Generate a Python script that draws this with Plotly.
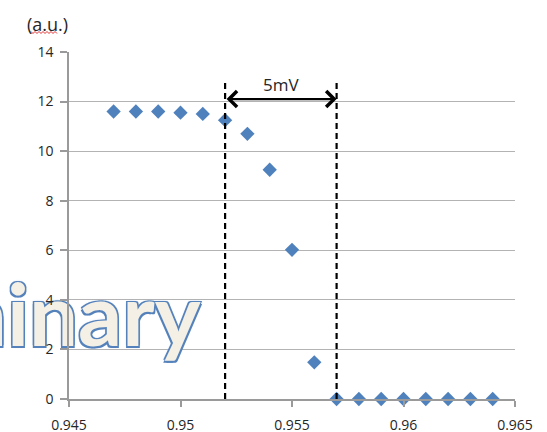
import plotly.graph_objects as go

# ---- data ----
bias_v = [0.947, 0.948, 0.949, 0.950, 0.951, 0.952, 0.953, 0.954, 0.955,
          0.956, 0.957, 0.958, 0.959, 0.960, 0.961, 0.962, 0.963, 0.964]
signal = [11.6, 11.6, 11.6, 11.55, 11.5, 11.25, 10.7, 9.25, 6.02,
          1.48, 0, 0, 0, 0, 0, 0, 0, 0]

x_ticks = [0.945, 0.95, 0.955, 0.96, 0.965]
x_tick_labels = ["0.945", "0.95", "0.955", "0.96", "0.965"]
y_ticks = [0, 2, 4, 6, 8, 10, 12, 14]
y_tick_labels = ["0", "2", "4", "6", "8", "10", "12", "14"]

marker_lines = [0.952, 0.957]   # dashed guides
line_top = 12.75
arrow_y = 12.1
arrow_label = "5mV"
unit_label = "(a.u.)"
watermark = "Preliminary"
watermark_pos = (0.9509, 3.0)

BLUE = "#4f81bd"
GRID = "#b3b3b3"
AXIS = "#9a9a9a"
TXT = "#262626"
FONT = "Open Sans"

fig = go.Figure()

# watermark as a text trace (drawn under tick labels)
fig.add_trace(go.Scatter(
    x=[watermark_pos[0]], y=[watermark_pos[1]], mode="text",
    text=[watermark], textposition="middle left", cliponaxis=False,
    textfont=dict(family="Lato", size=87, weight="bold", color="#f4f0e5",
                  shadow="-1.5px -1.5px 0 #5582bb, 1.5px -1.5px 0 #5582bb, "
                         "-1.5px 1.5px 0 #5582bb, 1.5px 1.5px 0 #5582bb, "
                         "0 0 3px #7fa2cf"),
    hoverinfo="skip", showlegend=False,
))

fig.add_trace(go.Scatter(
    x=bias_v, y=signal, mode="markers", cliponaxis=False,
    marker=dict(symbol="diamond", size=11, color=BLUE),
    showlegend=False,
))

# dashed guide lines
for xv in marker_lines:
    fig.add_shape(type="line", xref="x", yref="y", x0=xv, x1=xv, y0=0, y1=line_top,
                  line=dict(color="black", width=2.2, dash="6px,4px"))

# double-headed arrow
fig.add_annotation(x=marker_lines[1], y=arrow_y, ax=marker_lines[0], ay=arrow_y,
                   xref="x", yref="y", axref="x", ayref="y", text="",
                   showarrow=True, arrowhead=4, startarrowhead=4, arrowside="end+start",
                   arrowsize=1.4, startarrowsize=1.4, arrowwidth=2.2, arrowcolor="black",
                   standoff=0, startstandoff=0)
fig.add_annotation(x=sum(marker_lines) / 2, y=arrow_y, xref="x", yref="y",
                   text=arrow_label, showarrow=False, yanchor="bottom", yshift=1,
                   font=dict(family=FONT, size=17, color=TXT))

# unit label
L, R, T, B = 69, 32, 52, 33
W, H = 547, 432
pw, ph = W - L - R, H - T - B
def px2paper(px, py):
    return (px - L) / pw, (H - B - py) / ph

ux, uy = px2paper(47, 24)
fig.add_annotation(x=ux, y=uy, xref="paper", yref="paper", text=unit_label,
                   showarrow=False, xanchor="center", yanchor="middle",
                   font=dict(family=FONT, size=18, color=TXT))
# spell-check squiggle
pts = []
for i, px in enumerate(range(31, 59, 2)):
    pts.append(px2paper(px, 31.5 if i % 2 == 0 else 33.5))
path = "M " + " L ".join(f"{a:.5f},{b:.5f}" for a, b in pts)
fig.add_shape(type="path", xref="paper", yref="paper", path=path,
              line=dict(color="#e03030", width=1))

fig.update_layout(
    width=W, height=H, margin=dict(l=L, r=R, t=T, b=B, autoexpand=False),
    paper_bgcolor="white", plot_bgcolor="white",
    font=dict(family=FONT, size=14, color=TXT),
    xaxis=dict(range=[0.945, 0.965], tickvals=x_ticks, ticktext=x_tick_labels,
               showgrid=False, zeroline=False, showline=True, linecolor=AXIS,
               linewidth=1.5, ticks="outside", ticklen=6, tickcolor=AXIS,
               tickwidth=1.5, ticklabelstandoff=6, automargin=False),
    yaxis=dict(range=[0, 14], tickvals=y_ticks, ticktext=y_tick_labels,
               showgrid=True, gridcolor=GRID, gridwidth=1, zeroline=False,
               showline=True, linecolor=AXIS, linewidth=1.5, ticks="outside",
               ticklen=7, tickcolor=AXIS, tickwidth=1.5, ticklabelstandoff=4,
               automargin=False),
)

fig.write_html("out.html")
